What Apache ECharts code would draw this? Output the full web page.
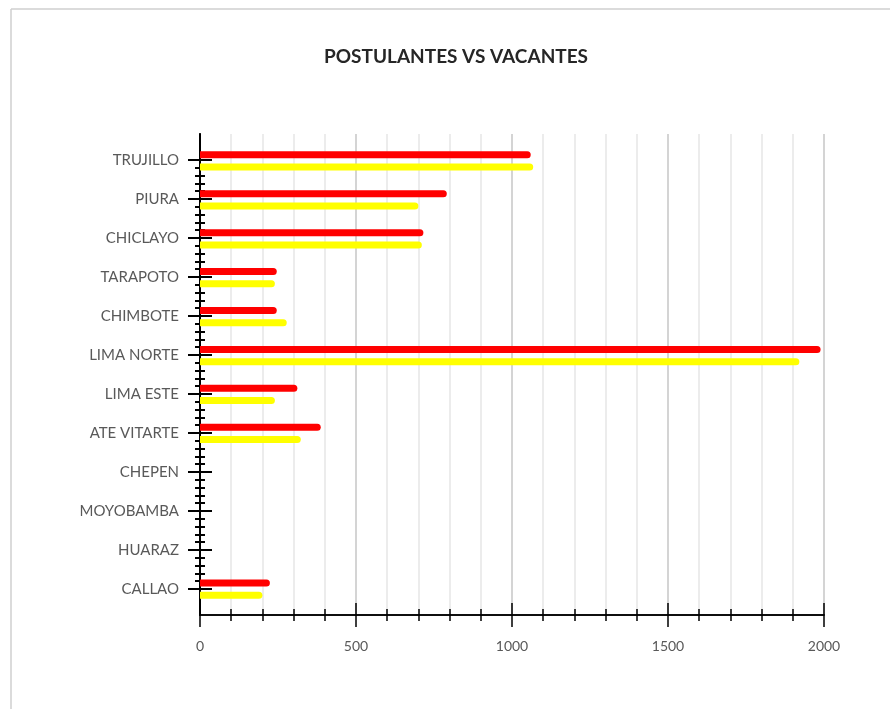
<!DOCTYPE html>
<html>
<head>
<meta charset="utf-8">
<script src="https://cdn.jsdelivr.net/npm/echarts@6/dist/echarts.min.js"></script>
<style>
  html, body { margin: 0; padding: 0; background: #fff; }
  #chart { width: 890px; height: 709px; }
</style>
</head>
<body>
<div id="chart"></div>
<script>
// datos del grafico
var categorias = ['TRUJILLO', 'PIURA', 'CHICLAYO', 'TARAPOTO', 'CHIMBOTE', 'LIMA NORTE',
	'LIMA ESTE', 'ATE VITARTE', 'CHEPEN', 'MOYOBAMBA', 'HUARAZ', 'CALLAO'];
var postulantes = [1060, 791, 716, 246, 246, 1989, 312, 387, 0, 0, 0, 224]; // rojo
var vacantes = [1068, 700, 711, 240, 278, 1921, 240, 323, 0, 0, 0, 200];    // amarillo
var xTicks = [0, 500, 1000, 1500, 2000];

var fuente = 'Lato';
var gris = '#595959';

// marcas del eje y: una por categoria y 4 menores entre ellas
var marcasMayores = [];
var marcasMenores = [];
for (var i = 0; i < categorias.length; i++) {
	marcasMayores.push(i);
}
for (var j = 0; j <= (categorias.length - 1) * 5; j++) {
	marcasMenores.push(j / 5);
}

// el eje dibujado sobresale 2/3 de categoria por arriba y por abajo
var yMin = -2 / 3;
var yMax = categorias.length - 1 + 2 / 3;

// area del eje completo
var gTop = 134, gBottom = 94, gLeft = 200, gRight = 66;
var porUnidad = (709 - gTop - gBottom) / (yMax - yMin);
// franja de la primera a la ultima categoria (para las marcas mayores exteriores)
var mTop = gTop + (0 - yMin) * porUnidad;
var mBottom = gBottom + (yMax - (categorias.length - 1)) * porUnidad;

// grid 1: eje y con etiquetas y marcas cruzadas
function ejeY(valores, largo, dentro, conEtiquetas) {
	return {
		type : 'value',
		gridIndex : 1,
		position : 'left',
		offset : 0,
		inverse : true,
		min : yMin,
		max : yMax,
		axisLine : { show : true, onZero : false, lineStyle : { color : '#000', width : 1.5 } },
		axisTick : {
			show : true,
			inside : dentro,
			length : largo,
			customValues : valores,
			lineStyle : { color : '#000', width : 2 }
		},
		axisLabel : {
			show : conEtiquetas,
			customValues : marcasMayores,
			margin : 21,
			color : gris,
			fontFamily : fuente,
			fontSize : 15,
			formatter : function (v) {
				return categorias[Math.round(v)];
			}
		},
		splitLine : { show : false }
	};
}

function ejeX(dentro, conEtiquetas) {
	return {
		type : 'value',
		gridIndex : 1,
		position : 'bottom',
		offset : 0,
		min : xTicks[0],
		max : xTicks[xTicks.length - 1],
		interval : 500,
		axisLine : { show : true, onZero : false, lineStyle : { color : '#000', width : 1.5 } },
		axisTick : { show : true, inside : dentro, length : 12, lineStyle : { color : '#000', width : 1.5 } },
		minorTick : { show : true, splitNumber : 5, length : 6, lineStyle : { color : '#000', width : 1.5 } },
		axisLabel : {
			show : conEtiquetas, margin : 24, color : gris, fontFamily : fuente, fontSize : 14,
			formatter : function (v) { return String(v); }
		},
		splitLine : { show : conEtiquetas, lineStyle : { color : '#c6c6c6', width : 1.5 } },
		minorSplitLine : { show : conEtiquetas, lineStyle : { color : '#e6e6e6', width : 1.5 } }
	};
}

function serie(nombre, valores, color) {
	return {
		name : nombre,
		type : 'bar',
		xAxisIndex : 0,
		yAxisIndex : 0,
		barWidth : 7,
		barGap : '75%',
		data : valores,
		itemStyle : { color : color, borderRadius : [0, 4, 4, 0] }
	};
}

var option = {
	backgroundColor : '#fff',
	animation : false,
	title : {
		text : 'POSTULANTES VS VACANTES',
		left : 451,
		textAlign : 'center',
		top : 42,
		textStyle : { fontFamily : fuente, fontSize : 19, fontWeight : 'bold', color : '#262626' }
	},
	grid : [
		// grid 0: barras, centros de categoria alineados con las marcas mayores
		{ left : gLeft, right : gRight, top : 141.5, bottom : 100.5, containLabel : false },
		// grid 1: area completa del eje
		{ left : gLeft, right : gRight, top : gTop, bottom : gBottom, containLabel : false },
		// grid 2: franja estrecha a la izquierda del eje para las marcas mayores exteriores
		{ left : gLeft - 12, width : 12, top : mTop, bottom : mBottom, containLabel : false }
	],
	xAxis : [
		{
			type : 'value',
			gridIndex : 0,
			min : xTicks[0],
			max : xTicks[xTicks.length - 1],
			interval : 500,
			show : false
		},
		ejeX(false, true),
		ejeX(true, false),
		{ type : 'value', gridIndex : 2, min : 0, max : 1, show : false }
	],
	yAxis : [
		{
			type : 'category',
			gridIndex : 0,
			data : categorias,
			inverse : true,
			show : false
		},
		ejeY(marcasMayores, 12, false, true),
		ejeY(marcasMayores, 12, true, false),
		ejeY(marcasMenores, 5, false, false),
		ejeY(marcasMenores, 5, true, false),
		{
			type : 'value',
			gridIndex : 2,
			inverse : true,
			min : 0,
			max : categorias.length - 1,
			interval : 1,
			axisLine : { show : false },
			axisTick : { show : false },
			axisLabel : { show : false },
			splitLine : { show : true, showMinLine : true, showMaxLine : true, lineStyle : { color : '#000', width : 2 } }
		}
	],
	series : [
		serie('POSTULANTES', postulantes, '#ff0000'),
		serie('VACANTES', vacantes, '#ffff00')
	],
	graphic : [
		{ type : 'line', shape : { x1 : 11, y1 : 9, x2 : 890, y2 : 9 }, style : { stroke : '#cfcfcf', lineWidth : 1.5 } },
		{ type : 'line', shape : { x1 : 11, y1 : 9, x2 : 11, y2 : 709 }, style : { stroke : '#cfcfcf', lineWidth : 1.5 } }
	]
};

var myChart = echarts.init(document.getElementById('chart'));
myChart.setOption(option);
</script>
</body>
</html>
